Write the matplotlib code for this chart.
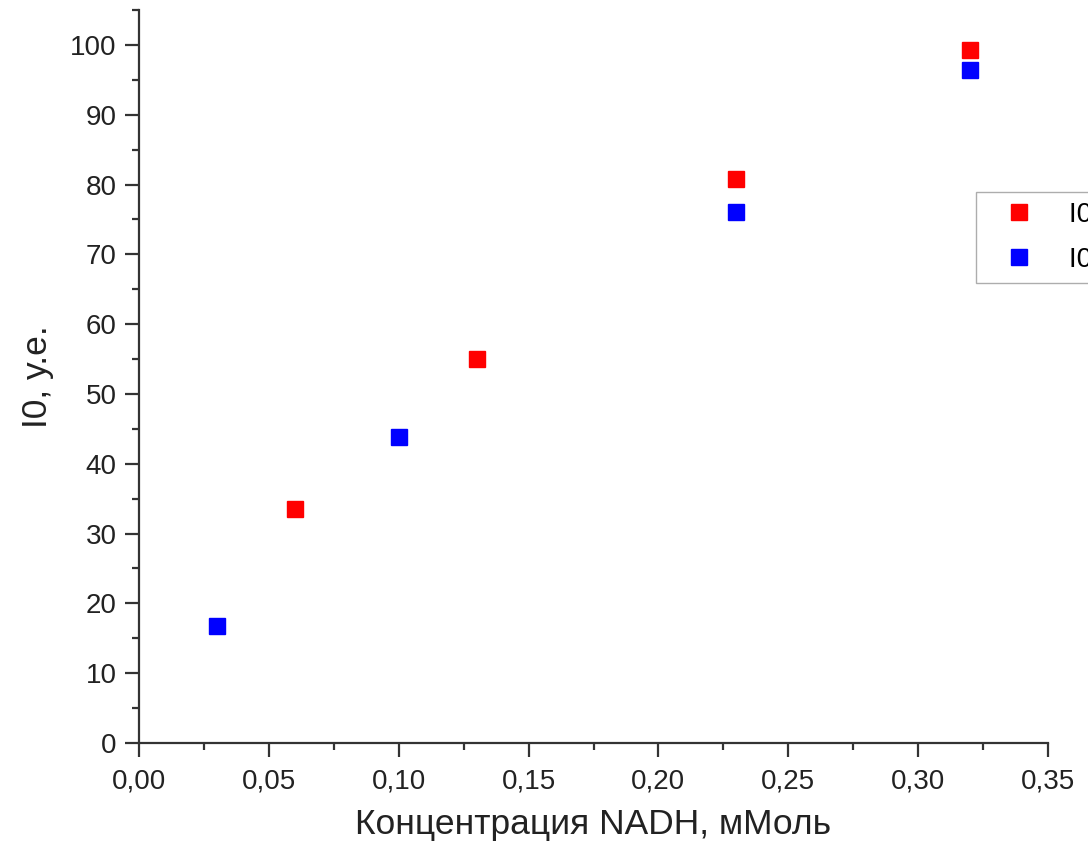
import matplotlib.pyplot as plt
from matplotlib.ticker import MultipleLocator, FuncFormatter

plt.rcParams['font.family'] = ['Liberation Sans', 'DejaVu Sans']

# data
x_red = [0.06, 0.13, 0.23, 0.32]
y_red = [33.5, 55.0, 80.8, 99.3]
x_blue = [0.03, 0.10, 0.23, 0.32]
y_blue = [16.8, 43.9, 76.0, 96.4]
labels = ['I0 (1)', 'I0 (2)']

fig = plt.figure(figsize=(10.88, 8.59), dpi=100)
ax = fig.add_axes([139 / 1088, 1 - 743 / 859, 909 / 1088, 733 / 859])

ax.plot(x_red, y_red, 's', color='#ff0000', ms=11, mec='#ff0000', label=labels[0])
ax.plot(x_blue, y_blue, 's', color='#0000ff', ms=11, mec='#0000ff', label=labels[1])

ax.set_xlim(0, 0.35)
ax.set_ylim(0, 105)
ax.spines['top'].set_visible(False)
ax.spines['right'].set_visible(False)
for s in ['left', 'bottom']:
    ax.spines[s].set_linewidth(1.6)
    ax.spines[s].set_color('#333333')

ax.xaxis.set_major_locator(MultipleLocator(0.05))
ax.xaxis.set_minor_locator(MultipleLocator(0.025))
ax.yaxis.set_major_locator(MultipleLocator(10))
ax.yaxis.set_minor_locator(MultipleLocator(5))
ax.xaxis.set_major_formatter(FuncFormatter(lambda v, p: f'{v:.2f}'.replace('.', ',')))
ax.tick_params(which='major', direction='out', length=10, width=1.6, labelsize=20,
               color='#333333', labelcolor='#222222')
ax.tick_params(which='minor', direction='out', length=5, width=1.6, color='#333333')
ax.tick_params(axis='x', which='major', pad=8)
ax.tick_params(axis='y', which='major', pad=6)

ax.set_xlabel('Концентрация NADH, мМоль', fontsize=25.5, labelpad=10, color='#222222')
ax.set_ylabel('I0, у.е.', fontsize=25.5, labelpad=12, color='#222222')

leg = fig.legend(loc='upper left', bbox_to_anchor=(976 / 1088, 1 - 192 / 859),
                 fontsize=20, frameon=True, fancybox=False, edgecolor='#999999',
                 handletextpad=0.6, borderpad=0.35, labelspacing=0.7, handlelength=2.4,
                 borderaxespad=0)
leg.get_frame().set_linewidth(1.0)

fig.savefig('out.png', dpi=100)
